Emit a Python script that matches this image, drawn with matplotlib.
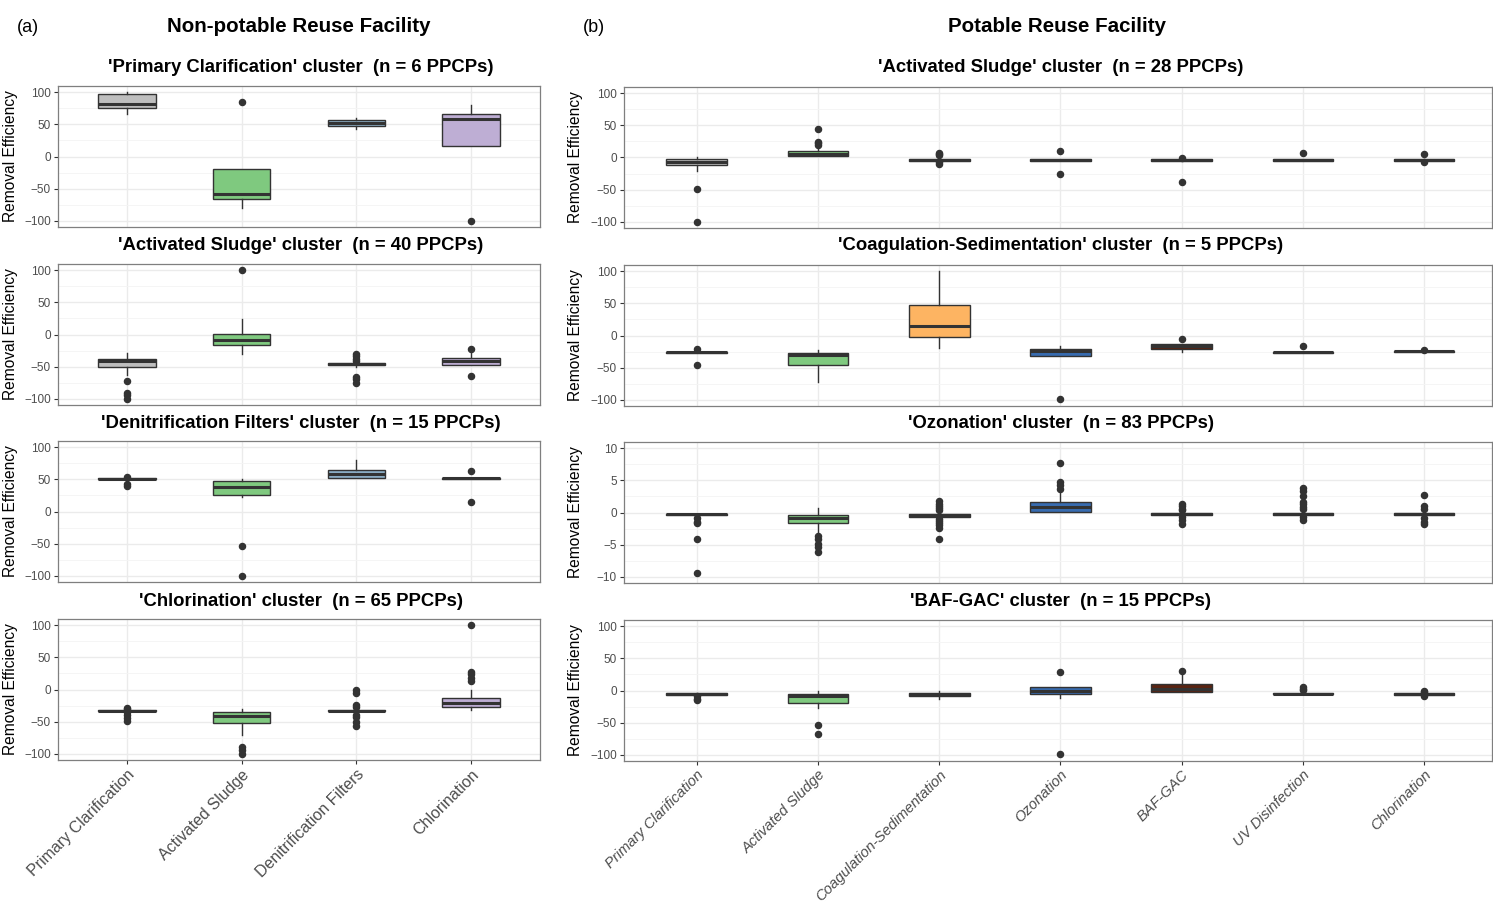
import numpy as np
import matplotlib.pyplot as plt

plt.rcParams['font.family'] = ['Liberation Sans', 'DejaVu Sans']

W, H = 1493, 909

# process names on the x axis
left_cats = ["Primary Clarification", "Activated Sludge", "Denitrification Filters", "Chlorination"]
right_cats = ["Primary Clarification", "Activated Sludge", "Coagulation-Sedimentation",
              "Ozonation", "BAF-GAC", "UV Disinfection", "Chlorination"]

left_titles = ["'Primary Clarification' cluster  (n = 6 PPCPs)",
               "'Activated Sludge' cluster  (n = 40 PPCPs)",
               "'Denitrification Filters' cluster  (n = 15 PPCPs)",
               "'Chlorination' cluster  (n = 65 PPCPs)"]
right_titles = ["'Activated Sludge' cluster  (n = 28 PPCPs)",
                "'Coagulation-Sedimentation' cluster  (n = 5 PPCPs)",
                "'Ozonation' cluster  (n = 83 PPCPs)",
                "'BAF-GAC' cluster  (n = 15 PPCPs)"]

# box stats per process: [whisker low, q1, median, q3, whisker high]
a1_box = [[66, 75, 82, 98, 100], [-81, -66, -58, -20, -20], [43, 47, 53, 57.5, 60], [16, 16, 58.5, 66, 80]]
a1_out = [[], [85.5], [], [-100]]
a2_box = [[-63, -51, -42, -38, -28.5], [-31, -16, -9, 0.5, 24], [-50, -48, -45.5, -44, -42], [-48, -47, -41, -36, -29]]
a2_out = [[-73, -91, -95, -100], [100], [-31, -34, -38, -41, -67, -70, -76], [-22, -64]]
a3_box = [[50, 50, 51, 52, 52], [23, 25, 38, 48, 51], [52.5, 52.5, 59, 64.5, 80], [50, 50, 51.5, 53, 53]]
a3_out = [[53.5, 43.5, 40.5], [-53.5, -100], [], [63.5, 14.7]]
a4_box = [[-34, -34, -33, -32, -32], [-71, -52, -41.5, -35, -30], [-34, -34, -33, -32, -32], [-32, -28, -21, -12.5, 0]]
a4_out = [[-28.5, -31, -35, -40, -45, -49], [-90, -94.5, -100], [-1, -4.7, -24.5, -28, -40, -43.6, -50, -56.6],
          [27.5, 24, 18, 13, 100]]

b1_box = [[-21, -12, -7, -2.6, 0], [1.6, 1.6, 6, 10, 14], [-5.5, -5.5, -4, -3, -3], [-5, -5, -4, -3, -3],
          [-5, -5, -4, -3, -3], [-5, -5, -4, -3, -3], [-5, -5, -4, -3, -3]]
b1_out = [[-49.5, -100], [43.7, 24.5, 22, 19], [7, 5, 3.6, -6.8, -9.4], [10, -25], [-0.5, -38.5], [7], [5, -7]]
b2_box = [[-27, -27, -26, -25, -25], [-72.5, -46.6, -30, -27, -23], [-19.7, -2.6, 15.5, 48, 100],
          [-32, -32, -24.4, -21, -16], [-25, -20.7, -17, -14, -14], [-27, -27, -26, -25, -25],
          [-25.5, -25.5, -24.4, -23.5, -23.5]]
b2_out = [[-21, -45.6], [], [], [-99.5], [-4.7], [-17], [-22]]
b3_box = [[-0.45, -0.45, -0.3, -0.2, -0.2], [-3, -1.7, -0.85, -0.4, 0.7], [-0.7, -0.7, -0.45, -0.25, -0.25],
          [0.05, 0.05, 0.9, 1.7, 3.5], [-0.35, -0.35, -0.2, -0.1, -0.1], [-0.4, -0.4, -0.25, -0.1, -0.1],
          [-0.4, -0.4, -0.25, -0.1, -0.1]]
b3_out = [[-0.9, -1.5, -1.7, -4.1, -9.5], [-3.7, -4.2, -4.9, -5.4, -6.2],
          [1.8, 1.4, 1.05, 0.7, 0.35, -0.95, -1.3, -1.6, -2.0, -2.4, -4.1], [7.8, 4.7, 4.3, 3.7],
          [1.4, 1.05, 0.6, 0.35, -0.7, -1.1, -1.8], [3.8, 3.35, 2.6, 1.7, 1.3, 0.9, 0.5, -0.7, -1.1],
          [2.7, 1.0, 0.5, -0.85, -1.5, -1.8]]
b4_box = [[-7, -7, -5.7, -4.5, -4.5], [-27.5, -19.7, -9.3, -5, 0], [-13, -9.3, -6.2, -3.6, 0],
          [-11.4, -6.2, 0, 5.2, 6.2], [-3.1, -3.1, 2.6, 10.4, 30], [-6, -6, -4.7, -3.5, -3.5],
          [-6.5, -6.5, -5.2, -4, -4]]
b4_out = [[-9.3, -13, -15.5], [-54.4, -67.4], [], [28.5, -99.5], [31], [6.2, 3.1, 1], [0, -2.6, -8.8]]

colors = {"Primary Clarification": "#BEBEBE", "Activated Sludge": "#7FC97F",
          "Denitrification Filters": "#8DB0C8", "Chlorination": "#BEAED4",
          "Coagulation-Sedimentation": "#FDB462", "Ozonation": "#386CB0",
          "BAF-GAC": "#5A2412", "UV Disinfection": "#BEBEBE"}

left_data = [(a1_box, a1_out), (a2_box, a2_out), (a3_box, a3_out), (a4_box, a4_out)]
right_data = [(b1_box, b1_out), (b2_box, b2_out), (b3_box, b3_out), (b4_box, b4_out)]

fig = plt.figure(figsize=(W / 100, H / 100), dpi=100)


def px_axes(x0, y0, x1, y1):
    return fig.add_axes([x0 / W, 1 - y1 / H, (x1 - x0) / W, (y1 - y0) / H])


def draw_panel(ax, cats, boxes, outs, lim, show_x, italic, ylab_x, xfs):
    stats = []
    for b, o in zip(boxes, outs):
        stats.append(dict(whislo=b[0], q1=b[1], med=b[2], q3=b[3], whishi=b[4], fliers=o))
    pos = np.arange(1, len(cats) + 1)
    res = ax.bxp(stats, positions=pos, widths=0.5, patch_artist=True, showcaps=False,
                 boxprops=dict(edgecolor='#333333', linewidth=1.0),
                 whiskerprops=dict(color='#333333', linewidth=1.0),
                 medianprops=dict(color='#333333', linewidth=2.2),
                 flierprops=dict(marker='o', markerfacecolor='#333333', markeredgecolor='#333333',
                                 markersize=4.4))
    for patch, c in zip(res['boxes'], cats):
        patch.set_facecolor(colors[c])
    ax.set_xlim(0.4, len(cats) + 0.6)
    ax.set_ylim(-lim * 1.1, lim * 1.1)
    ax.set_yticks(np.linspace(-lim, lim, 5))
    ax.set_yticks(np.linspace(-lim * 0.75, lim * 0.75, 4), minor=True)
    ax.set_xticks(pos)
    ax.grid(True, which='major', color='#EBEBEB', linewidth=1.0)
    ax.grid(True, which='minor', axis='y', color='#F4F4F4', linewidth=0.6)
    ax.set_axisbelow(True)
    ax.tick_params(axis='y', which='minor', length=0)
    ax.tick_params(axis='both', which='major', labelsize=8.5, labelcolor='#4D4D4D', color='#333333',
                   length=3, pad=2)
    for s in ax.spines.values():
        s.set_color('#7F7F7F')
        s.set_linewidth(0.9)
    if show_x:
        ax.set_xticklabels(cats, rotation=45, ha='right', rotation_mode='anchor', fontsize=xfs,
                           color='#4D4D4D', style='italic' if italic else 'normal')
    else:
        ax.set_xticklabels([])
        ax.tick_params(axis='x', length=0)
    ax.set_ylabel("Removal Efficiency", fontsize=11.2)
    ax.yaxis.set_label_coords(ylab_x, 0.5)
    return ax


left_top = [86, 264, 441, 619]
right_top = [87, 265, 442, 620]
title_y = [68, 246, 424, 601]
for i in range(4):
    ax = px_axes(58, left_top[i], 540, left_top[i] + 141)
    draw_panel(ax, left_cats, left_data[i][0], left_data[i][1], 100, i == 3, False, (18 - 58) / 482, 11.5)
    fig.text(301 / W, 1 - title_y[i] / H, left_titles[i], ha='center', va='center',
             fontsize=13.3, fontweight='bold')
for i in range(4):
    lim = 10 if i == 2 else 100
    ax = px_axes(624, right_top[i], 1492, right_top[i] + 141)
    draw_panel(ax, right_cats, right_data[i][0], right_data[i][1], lim, i == 3, True, (583 - 624) / 868, 10.6)
    ax.set_xlim(0.4, 7.56)
    fig.text(1061 / W, 1 - title_y[i] / H, right_titles[i], ha='center', va='center',
             fontsize=13.3, fontweight='bold')

fig.text(28 / W, 1 - 27 / H, "(a)", ha='center', va='center', fontsize=13)
fig.text(299 / W, 1 - 27 / H, "Non-potable Reuse Facility", ha='center', va='center',
         fontsize=14.8, fontweight='bold')
fig.text(594 / W, 1 - 27 / H, "(b)", ha='center', va='center', fontsize=13)
fig.text(1057 / W, 1 - 27 / H, "Potable Reuse Facility", ha='center', va='center',
         fontsize=14.8, fontweight='bold')

fig.savefig("out.png", dpi=100)
